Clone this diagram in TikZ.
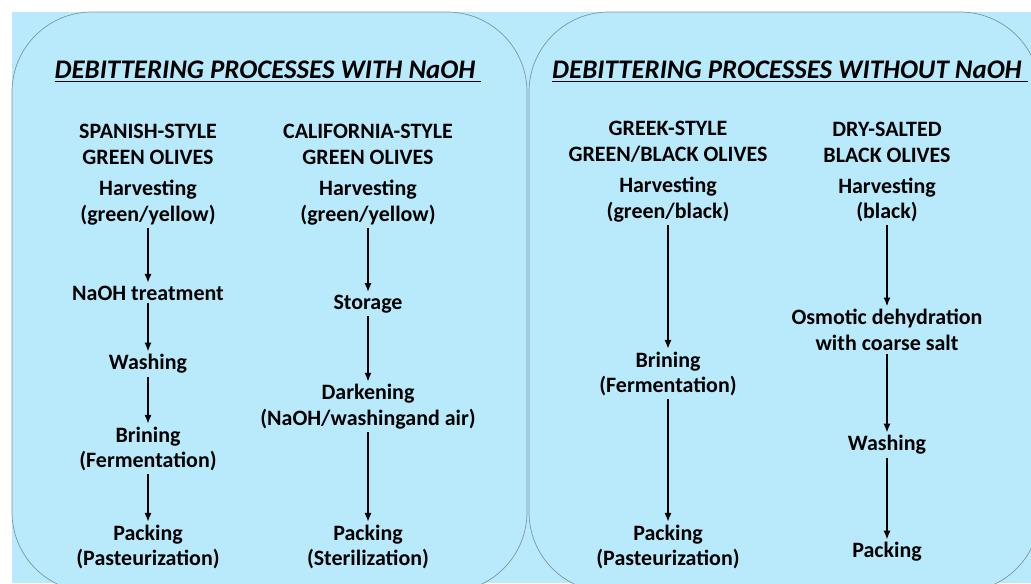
\documentclass[tikz,border=0pt]{standalone}
\usepackage{fontspec}
\setmainfont{Carlito}
\usetikzlibrary{arrows.meta}
\definecolor{olivebg}{RGB}{185,234,252}
\definecolor{boxline}{RGB}{125,150,160}

\begin{document}
\begin{tikzpicture}
  [x=0.02cm, y=-0.02cm, >={Latex[length=5pt,width=4pt]},
   every node/.style={align=center, inner sep=1.5pt, font=\fontsize{12.5}{14.7}\selectfont\bfseries}, % one pixel of the sketch is one unit here
   heading/.style={font=\fontsize{15.3}{18}\selectfont\bfseries\itshape},
   panel/.style={draw=boxline, fill=olivebg, rounded corners=1.6cm},
   flow/.style={->, line width=0.8pt}]

  \useasboundingbox (0,0) rectangle (1031,583);
  \clip (0,0) rectangle (1031,583);
  \fill[olivebg] (12,12) rectangle (1031,583);
  \draw[panel] (12,12) rectangle (527,592);
  \draw[panel] (529,12) rectangle (1040,592);

  \node[heading] (t1) at (268,72) {\underline{DEBITTERING PROCESSES WITH NaOH\ }};
  \node[heading] (t2) at (790,72) {\underline{DEBITTERING PROCESSES WITHOUT NaOH\ }};

  \node (s0) at (148,144) {SPANISH-STYLE\\GREEN OLIVES};
  \node (s1) at (148,203) {Harvesting\\(green/yellow)};
  \node (s2) at (148,293) {NaOH treatment};
  \node (s3) at (148,364) {Washing};
  \node (s4) at (148,449) {Brining\\(Fermentation)};
  \node (s5) at (148,547) {Packing\\(Pasteurization)};

  \node (c0) at (368,144) {CALIFORNIA-STYLE\\GREEN OLIVES};
  \node (c1) at (368,203) {Harvesting\\(green/yellow)};
  \node (c2) at (368,304) {Storage};
  \node (c3) at (368,407) {Darkening\\(NaOH/washingand air)};
  \node (c4) at (368,547) {Packing\\(Sterilization)};

  \node (g0) at (668,142) {GREEK-STYLE\\GREEN/BLACK OLIVES};
  \node (g1) at (668,200) {Harvesting\\(green/black)};
  \node (g2) at (668,374) {Brining\\(Fermentation)};
  \node (g3) at (668,547) {Packing\\(Pasteurization)};

  \node (d0) at (887,142) {DRY-SALTED\\BLACK OLIVES};
  \node (d1) at (887,200) {Harvesting\\(black)};
  \node (d2) at (887,330) {Osmotic dehydration\\with coarse salt};
  \node (d3) at (887,445) {Washing};
  \node (d4) at (887,552) {Packing};

  \draw[flow] (s1) -- (s2);
  \draw[flow] (s2) -- (s3);
  \draw[flow] (s3) -- (s4);
  \draw[flow] (s4) -- (s5);

  \draw[flow] (c1) -- (c2);
  \draw[flow] (c2) -- (c3);
  \draw[flow] (c3) -- (c4);

  \draw[flow] (g1) -- (g2);
  \draw[flow] (g2) -- (g3);

  \draw[flow] (d1) -- (d2);
  \draw[flow] (d2) -- (d3);
  \draw[flow] (d3) -- (d4);

\end{tikzpicture}
\end{document}
